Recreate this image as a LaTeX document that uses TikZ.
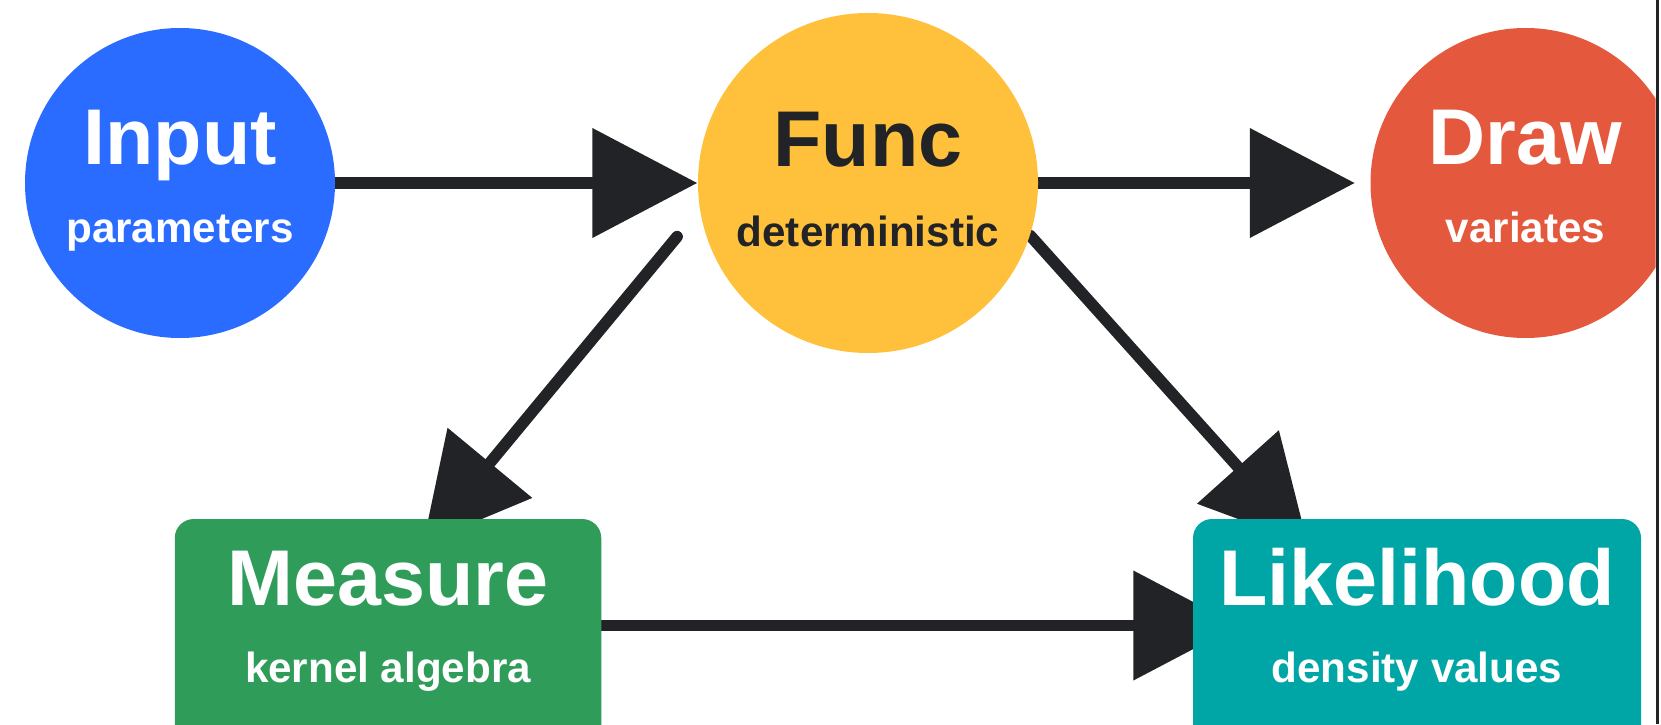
\documentclass[tikz,border=0pt]{standalone}
\usepackage{fontspec}
\setmainfont{Liberation Sans}
\usetikzlibrary{arrows.meta,backgrounds}
\definecolor{inblue}{HTML}{2A6CFF}
\definecolor{fnyellow}{HTML}{FFC13B}
\definecolor{drred}{HTML}{E4593D}
\definecolor{msgreen}{HTML}{2F9C5A}
\definecolor{lkteal}{HTML}{00A6A6}
\definecolor{inkgray}{HTML}{222326}
\tikzset{
  circ/.style={circle, inner sep=0pt, minimum size=#1},
  box/.style={rectangle, rounded corners=0.19cm, inner sep=0pt, minimum width=#1, minimum height=2.5cm},
  ttl/.style={anchor=base, inner sep=0pt, font=\fontsize{22.5}{27}\selectfont\bfseries},
  sub/.style={anchor=base, inner sep=0pt, font=\fontsize{12}{14}\selectfont\bfseries},
  edge/.style={draw=inkgray, line width=3.3pt, line cap=round, -{Triangle[length=1.05cm, width=1.07cm]}},
}
\begin{document}
\begin{tikzpicture}
    \useasboundingbox (0, 0) rectangle (16.61, 7.24);
    \begin{scope}
        \clip (0, 0) rectangle (16.555, 7.24);
        \node[circ=3.10cm, fill=inblue] (inp) at (1.80, 5.41) {};
        \node[circ=3.40cm, fill=fnyellow] (fnc) at (8.68, 5.41) {};
        \node[circ=3.10cm, fill=drred] (drw) at (15.255, 5.41) {};
        \node[box=4.265cm, fill=msgreen] (msr) at (3.88, 0.80) {};
        \node[box=4.48cm, fill=lkteal] (lik) at (14.17, 0.80) {};
    \end{scope}
    \node[ttl, text=white] (inp-t) at (1.80, 5.59) {Input};
    \node[sub, text=white] (inp-s) at (1.80, 4.82) {parameters};
    \node[ttl, text=inkgray] (fnc-t) at (8.68, 5.57) {Func};
    \node[sub, text=inkgray] (fnc-s) at (8.68, 4.78) {deterministic};
    \node[ttl, text=white] (drw-t) at (15.255, 5.59) {Draw};
    \node[sub, text=white] (drw-s) at (15.255, 4.82) {variates};
    \node[ttl, text=white] (msr-t) at (3.88, 1.19) {Measure};
    \node[sub, text=white] (msr-s) at (3.88, 0.42) {kernel algebra};
    \node[ttl, text=white] (lik-t) at (14.17, 1.19) {Likelihood};
    \node[sub, text=white] (lik-s) at (14.17, 0.42) {density values};
    \begin{scope}[on background layer]
        \draw[edge] (inp) -- (fnc);
        \draw[edge, shorten >=0.15cm] (fnc) -- (drw);
        \draw[edge, shorten <=0.35cm, shorten >=-0.33cm] (fnc.189) -- ([xshift=0.56cm]msr.north);
        \draw[edge, shorten >=-0.36cm] (fnc.342) -- ([xshift=-1.33cm]lik.north);
        \draw[edge, shorten >=-0.46cm] ([yshift=0.185cm]msr.east) -- ([yshift=0.185cm]lik.west);
    \end{scope}
    \draw[inkgray, line width=0.7pt] (16.575, 0) -- (16.575, 7.24);
\end{tikzpicture}
\end{document}
